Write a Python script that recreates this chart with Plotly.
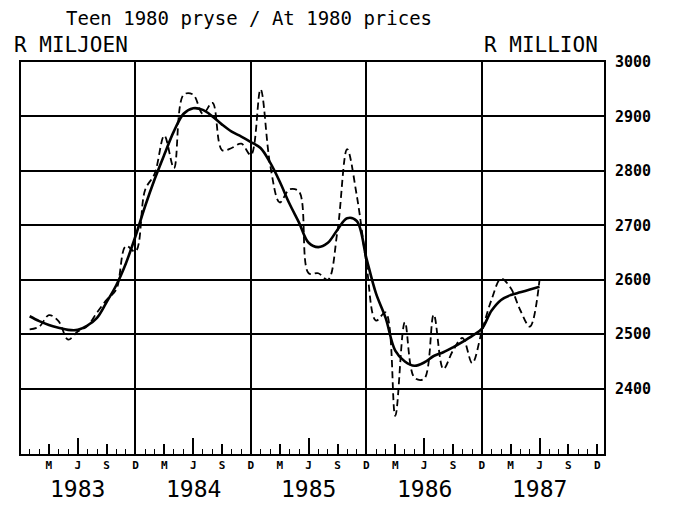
import plotly.graph_objects as go

# Monthly series Jan 1983 .. Jun 1987 (R million, at 1980 prices)
month_index = list(range(1, 55))  # months after Dec 1982
actual = [
    2509, 2514, 2535, 2524, 2490, 2505, 2515, 2540, 2563, 2582, 2662, 2652,   # 1983
    2765, 2795, 2865, 2805, 2940, 2940, 2905, 2925, 2838, 2842, 2850, 2829,   # 1984
    2950, 2811, 2742, 2766, 2762, 2612, 2612, 2600, 2690, 2840, 2755, 2630,   # 1985
    2525, 2540, 2350, 2522, 2420, 2418, 2536, 2436, 2470, 2493, 2447, 2505,   # 1986
    2563, 2602, 2585, 2544, 2514, 2600,                                       # 1987
]
trend = [
    2533, 2524, 2517, 2512, 2508, 2508, 2516, 2530, 2559, 2590, 2630, 2680,
    2735, 2785, 2830, 2873, 2905, 2915, 2912, 2900, 2885, 2872, 2863, 2853,
    2842, 2815, 2780, 2740, 2705, 2668, 2660, 2668, 2692, 2713, 2708, 2640,
    2575, 2530, 2470, 2450, 2442, 2448, 2460, 2467, 2476, 2486, 2497, 2510,
    2543, 2563, 2572, 2577, 2582, 2587,
]

quarter_ticks = list(range(3, 61, 3))
quarter_labels = ["M", "J", "S", "D"] * 5
year_end_ticks = [12, 24, 36, 48]
june_ticks = [6, 18, 30, 42, 54]
year_labels = ["1983", "1984", "1985", "1986", "1987"]
year_centres = [6, 18, 30, 42, 54]
y_ticks = [2400, 2500, 2600, 2700, 2800, 2900, 3000]

FONT = "DejaVu Sans Mono"

fig = go.Figure()
fig.add_trace(go.Scatter(
    x=month_index, y=actual, mode="lines", line_shape="spline",
    line=dict(color="black", width=1.8, dash="7px,4px"), showlegend=False,
))
fig.add_trace(go.Scatter(
    x=month_index, y=trend, mode="lines", line_shape="spline",
    line=dict(color="black", width=2.6), showlegend=False,
))
# overlay traces for extra axes
fig.add_trace(go.Scatter(x=[None], y=[None], xaxis="x2", showlegend=False))
fig.add_trace(go.Scatter(x=[None], y=[None], xaxis="x3", showlegend=False))

xr = [0.1, 60.7]
fig.update_layout(
    width=667, height=498,
    margin=dict(l=13, r=71, t=54, b=52),
    paper_bgcolor="white", plot_bgcolor="white",
    xaxis=dict(
        range=xr, tickvals=quarter_ticks, ticktext=quarter_labels,
        ticks="inside", ticklen=10, tickwidth=1.5, tickcolor="black",
        minor=dict(dtick=1, tick0=0, ticks="inside", ticklen=5, tickwidth=1.2, tickcolor="black"),
        showgrid=False, zeroline=False,
        showline=True, linecolor="black", linewidth=2, mirror=True,
        tickfont=dict(family=FONT, size=11, color="black", weight="bold"),
    ),
    xaxis2=dict(
        range=xr, overlaying="x", matches="x", tickvals=year_end_ticks,
        showticklabels=False, ticks="", showgrid=True,
        gridcolor="black", gridwidth=1.6, zeroline=False, showline=False,
    ),
    xaxis3=dict(
        range=xr, overlaying="x", matches="x", tickvals=june_ticks,
        showticklabels=False, ticks="inside", ticklen=16, tickwidth=1.5,
        tickcolor="black", showgrid=False, zeroline=False, showline=False,
    ),
    yaxis=dict(
        range=[2280, 3000], side="right", tickvals=y_ticks,
        ticks="", ticklabelstandoff=6,
        showgrid=True, gridcolor="black", gridwidth=2, zeroline=False,
        showline=True, linecolor="black", linewidth=2, mirror=True,
        tickfont=dict(family=FONT, size=15, color="black", weight="bold"),
    ),
    annotations=[
        dict(text="Teen 1980 pryse / At 1980 prices", x=0.391, y=1.112,
             xref="paper", yref="paper", showarrow=False,
             xanchor="center", yanchor="middle",
             font=dict(family=FONT, size=19, color="black")),
        dict(text="R MILJOEN", x=-0.015, y=1.043, xref="paper", yref="paper",
             xanchor="left", yanchor="middle", showarrow=False,
             font=dict(family=FONT, size=21, color="black")),
        dict(text="R MILLION", x=0.993, y=1.043, xref="paper", yref="paper",
             xanchor="right", yanchor="middle", showarrow=False,
             font=dict(family=FONT, size=21, color="black")),
    ] + [
        dict(text=t, x=c, y=-0.09, xref="x", yref="paper", showarrow=False,
             xanchor="center", yanchor="middle",
             font=dict(family=FONT, size=23, color="black"))
        for t, c in zip(year_labels, year_centres)
    ],
)

fig.write_html("out.html")
